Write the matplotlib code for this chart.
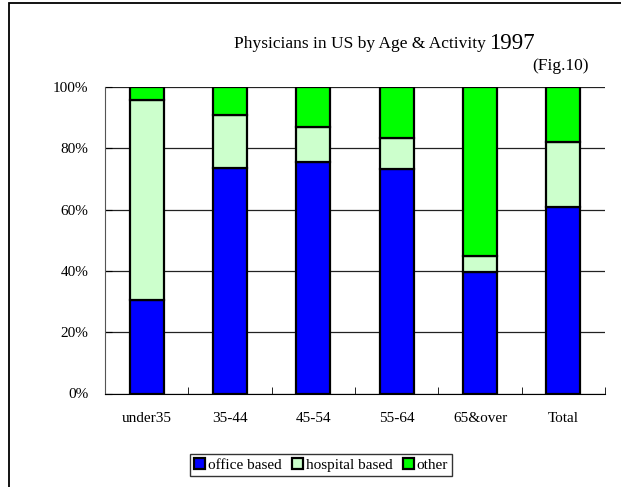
import numpy as np
import matplotlib
matplotlib.use('Agg')
import matplotlib.pyplot as plt
from matplotlib.patches import Rectangle

# Datos (porcentajes)
categories = ['under35', '35-44', '45-54', '55-64', '65&over', 'Total']
office_based = [30.5, 73.5, 75.4, 73.2, 39.7, 60.7]
hospital_based = [65.2, 17.3, 11.7, 10.0, 5.1, 21.4]
other = [4.3, 9.2, 12.9, 16.8, 55.2, 17.9]
series_names = ['office based', 'hospital based', 'other']
colors = ['#0000ff', '#ccffcc', '#00ff00']
yticks = [0, 20, 40, 60, 80, 100]

plt.rcParams['font.family'] = ['Liberation Serif', 'DejaVu Serif']

fig = plt.figure(figsize=(6.21, 4.87), dpi=100)
W, H = 621, 487
ax = fig.add_axes([105 / W, 1 - 393.5 / H, (605 - 105) / W, (393.5 - 87) / H])

x = np.arange(len(categories))
bottom = np.zeros(len(categories))
bars = []
for vals, name, c in zip([office_based, hospital_based, other], series_names, colors):
    b = ax.bar(x, vals, width=0.41, bottom=bottom, color=c, edgecolor='black',
               linewidth=1.6, label=name, zorder=3)
    bars.append(b)
    bottom += np.array(vals)

ax.set_xlim(-0.5, len(categories) - 0.5)
ax.set_ylim(0, 100)
ax.set_yticks(yticks)
ax.set_yticklabels([f'{v}%' for v in yticks], fontsize=11)
ax.set_xticks(x)
ax.set_xticklabels(categories, fontsize=11)
ax.tick_params(axis='x', length=0, pad=13)
ax.tick_params(axis='y', direction='in', length=5, pad=12)
# marcas entre categorias
ax.set_xticks(np.arange(len(categories) + 1) - 0.5, minor=True)
ax.tick_params(axis='x', which='minor', direction='in', length=5)

ax.yaxis.grid(True, color='#222222', linewidth=0.9, zorder=0)
ax.set_axisbelow(True)
for s in ['top', 'right']:
    ax.spines[s].set_visible(False)
ax.spines['left'].set_color('#555555')
ax.spines['bottom'].set_color('black')

# Titulo
fig.text(486 / W, 1 - 48 / H, 'Physicians in US by Age & Activity', fontsize=12.5,
         ha='right', va='baseline')
fig.text(489 / W, 1 - 49 / H, '1997', fontsize=16.5, ha='left', va='baseline')
fig.text(589 / W, 1 - 70 / H, '(Fig.10)', fontsize=12.5, ha='right', va='baseline')

leg = fig.legend(handles=bars, labels=series_names, loc='center',
                 bbox_to_anchor=(321 / W, 1 - 465 / H), ncol=3, frameon=True,
                 fancybox=False, edgecolor='black', fontsize=11,
                 handlelength=0.7, handleheight=0.7, handletextpad=0.2,
                 columnspacing=0.7, borderpad=0.25, borderaxespad=0)
leg.get_frame().set_linewidth(1.0)

# marco exterior
fig.patches.append(Rectangle((9 / W, -0.1), 1.2, 1.1 - 3 / H, transform=fig.transFigure,
                             fill=False, edgecolor='black', linewidth=1.3))

plt.savefig('out.png', dpi=100)
